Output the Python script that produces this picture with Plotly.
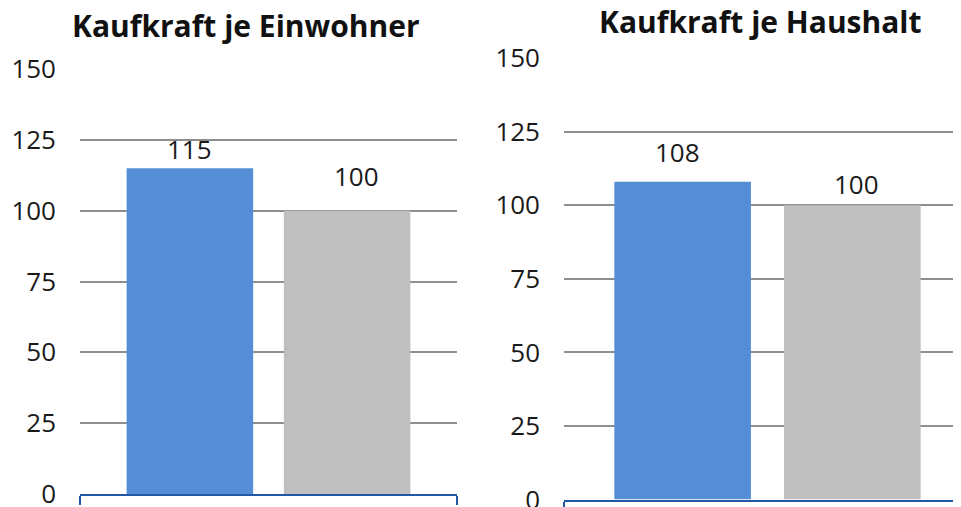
import plotly.graph_objects as go

# data
panel_titles = ["Kaufkraft je Einwohner", "Kaufkraft je Haushalt"]
series_names = ["Region", "Deutschland"]
einwohner = [115, 100]
haushalt = [108, 100]
bar_colors = ["#558ED5", "#BFBFBF"]
y_ticks = [0, 25, 50, 75, 100, 125, 150]

FONT = "Open Sans"
W, H = 961, 507
OFF = 8  # the page body adds an 8px margin
BARGAP = 0.166

# label offsets above the bar tops (pixels)
label_lift = {"x": [19, 35], "x2": [30, 21]}
label_nudge = {"x": [0, 9], "x2": [-5, 4]}


def px_x(v):
    return (v - OFF) / W


def px_y(v):
    return (H - (v - OFF)) / H


fig = go.Figure()
annotations = []
for ax, ay, values in [("x", "y", einwohner), ("x2", "y2", haushalt)]:
    slot = (1 - BARGAP) / len(values)
    for i, (name, color) in enumerate(zip(series_names, bar_colors)):
        fig.add_trace(go.Bar(
            x=[""], y=[values[i]], name=name,
            marker=dict(color=color, line=dict(width=0)),
            xaxis=ax, yaxis=ay, showlegend=False, hoverinfo="skip"
        ))
        annotations.append(dict(
            text=str(values[i]), xref=ax, yref=ay,
            x=-0.5 + BARGAP / 2 + slot * (i + 0.5), y=values[i],
            yanchor="middle", xanchor="center", showarrow=False,
            yshift=label_lift[ax][i], xshift=label_nudge[ax][i],
            font=dict(size=26, color="#1a1a1a", family=FONT)
        ))

xcommon = dict(type="category", showgrid=False, showline=True, linecolor="#2358A6",
               linewidth=2, ticks="outside", tickson="boundaries", ticklen=9,
               tickcolor="#2358A6", tickwidth=2, showticklabels=False, zeroline=False,
               automargin=False)
ycommon = dict(range=[-0.001, 150], tickvals=y_ticks, showgrid=True, gridcolor="#8e8e8e",
               gridwidth=1.5, showline=False, zeroline=False, ticks="", automargin=False,
               ticklabeloverflow="allow",
               tickfont=dict(size=26, color="#1a1a1a", family=FONT), ticklabelstandoff=23)

annotations += [
    dict(text="<b>%s</b>" % panel_titles[0], x=px_x(246), y=px_y(26), xref="paper",
         yref="paper", xanchor="center", yanchor="middle", showarrow=False,
         font=dict(size=30, color="#111", family=FONT)),
    dict(text="<b>%s</b>" % panel_titles[1], x=px_x(760), y=px_y(21), xref="paper",
         yref="paper", xanchor="center", yanchor="middle", showarrow=False,
         font=dict(size=30, color="#111", family=FONT)),
]

fig.update_layout(
    width=W, height=H,
    margin=dict(l=0, r=0, t=0, b=0),
    plot_bgcolor="white", paper_bgcolor="white",
    barmode="group", bargap=BARGAP, bargroupgap=0.195,
    xaxis=dict(xcommon, domain=[px_x(80), px_x(457)], anchor="y", range=[-0.5, 0.5]),
    yaxis=dict(ycommon, domain=[px_y(494), px_y(69)], anchor="x"),
    xaxis2=dict(xcommon, domain=[px_x(564), 1.0], anchor="y2",
                range=[-0.5, -0.5 + (W - (564 - OFF)) / 407]),
    yaxis2=dict(ycommon, domain=[px_y(499.6), px_y(58)], anchor="x2"),
    annotations=annotations,
)

fig.write_html("out.html")
